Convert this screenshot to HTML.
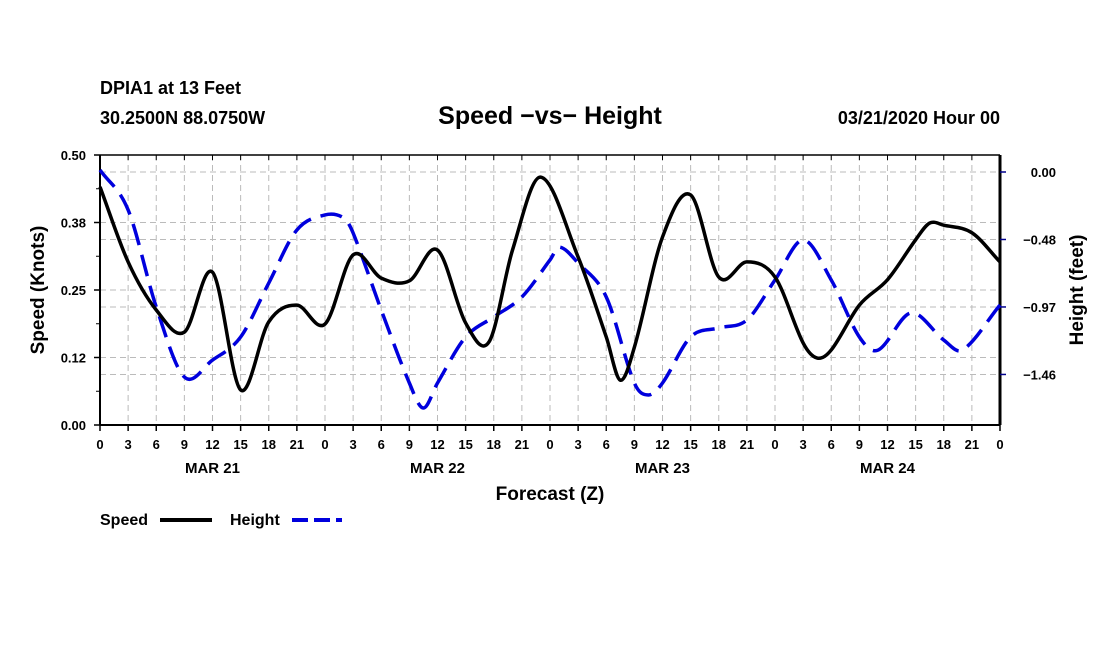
<!DOCTYPE html>
<html><head><meta charset="utf-8"><style>
body{margin:0;background:#fff;}
svg text{font-family:"Liberation Sans",sans-serif;font-weight:bold;fill:#000;}
</style></head><body>
<svg id="chart" width="1100" height="650" xmlns="http://www.w3.org/2000/svg">
<text x="100" y="94" font-size="18">DPIA1 at 13 Feet</text>
<text x="100" y="124" font-size="18">30.2500N 88.0750W</text>
<text x="550" y="124" font-size="25" text-anchor="middle">Speed −vs− Height</text>
<text x="1000" y="124" font-size="18" text-anchor="end">03/21/2020 Hour 00</text>
<g id="grid"></g>
<g id="axes"></g>
<g id="series"></g>
<text transform="translate(44,290) rotate(-90)" font-size="19" text-anchor="middle">Speed (Knots)</text>
<text transform="translate(1083,290) rotate(-90)" font-size="19" text-anchor="middle">Height (feet)</text>
<text x="550" y="500" font-size="19" text-anchor="middle">Forecast (Z)</text>
<g><text x="100" y="525" font-size="16">Speed</text><line x1="160" y1="520" x2="212" y2="520" stroke="#000" stroke-width="4"/></g>
<g><text x="230" y="525" font-size="16">Height</text><line x1="292" y1="520" x2="342" y2="520" stroke="#0000dd" stroke-width="4" stroke-dasharray="16,6"/></g>
</svg>
<script>
const speedHours=[0,3,6,9,12,15,18,21,24,27,30,33,36,39,41.5,44,47,51,54,55.5,57,60,63,66,69,72,75,76.5,78,81,84,87,88.5,90,93,96];
const speed=[0.441,0.302,0.213,0.172,0.283,0.065,0.191,0.222,0.187,0.315,0.272,0.267,0.324,0.189,0.154,0.324,0.459,0.311,0.163,0.083,0.144,0.348,0.426,0.274,0.302,0.274,0.152,0.124,0.139,0.222,0.269,0.343,0.374,0.370,0.356,0.302];
const heightHours=[0,3,6,9,12,15,18,21,24,26,27,30,33,34.5,36,39,42,45,48,49,51,54,57,58.5,60,63,66,69,72,75,78,81,83,86.5,90,92,96];
const height=[0.014,-0.273,-0.971,-1.475,-1.353,-1.187,-0.799,-0.417,-0.309,-0.331,-0.439,-0.993,-1.518,-1.698,-1.518,-1.187,-1.043,-0.899,-0.633,-0.540,-0.655,-0.899,-1.518,-1.604,-1.518,-1.187,-1.122,-1.065,-0.777,-0.489,-0.777,-1.187,-1.281,-1.014,-1.209,-1.281,-0.957];
const speedTicks=[0,0.125,0.25,0.375,0.5];
const speedTickLabels=["0.00","0.12","0.25","0.38","0.50"];
const heightTicks=[0,-0.4855,-0.971,-1.4565];
const heightTickLabels=["0.00","−0.48","−0.97","−1.46"];
const xTickLabels=["0","3","6","9","12","15","18","21"];
const dayLabels=["MAR 21","MAR 22","MAR 23","MAR 24"];

const L=100,R=1000,T=155,B=425;
const X=h=>L+h*(R-L)/96;
const YS=v=>B-v*(B-T)/0.5;
const YH=v=>172-v*139;
const NS="http://www.w3.org/2000/svg";
function mk(tag,attrs,parent){const e=document.createElementNS(NS,tag);for(const k in attrs)e.setAttribute(k,attrs[k]);parent.appendChild(e);return e;}
const grid=document.getElementById('grid'),axes=document.getElementById('axes'),series=document.getElementById('series');
for(let h=3;h<96;h+=3){const l=mk('line',{x1:X(h),x2:X(h),y1:T,y2:B,stroke:'#bbb','stroke-dasharray':'6,4'},grid);

}
speedTicks.slice(1,4).forEach(v=>{const l=mk('line',{x1:L,x2:R,y1:YS(v),y2:YS(v),stroke:'#bbb','stroke-dasharray':'6,4'},grid);

});
heightTicks.forEach(v=>{const l=mk('line',{x1:L,x2:R,y1:YH(v),y2:YH(v),stroke:'#bbb','stroke-dasharray':'6,4'},grid);

});
mk('line',{x1:L,x2:R,y1:B,y2:B,stroke:'#000','stroke-width':2},axes);
mk('line',{x1:L,x2:R,y1:T,y2:T,stroke:'#000','stroke-width':1.5},axes);
mk('line',{x1:L,x2:L,y1:T,y2:B,stroke:'#000','stroke-width':2},axes);
mk('line',{x1:R,x2:R,y1:T,y2:B,stroke:'#000','stroke-width':3},axes);
for(let h=0;h<=96;h+=3){
 mk('line',{x1:X(h),x2:X(h),y1:B,y2:B+6,stroke:'#000','stroke-width':1.5},axes);
 mk('line',{x1:X(h),x2:X(h),y1:T,y2:T+5,stroke:'#000'},axes);
 const t=mk('text',{x:X(h),y:449,'font-size':13,'text-anchor':'middle'},axes);
 
 
 t.textContent=h%24===0?"0":xTickLabels[(h%24)/3];
}
dayLabels.forEach((d,i)=>{const t=mk('text',{x:X(12+24*i),y:473,'font-size':15,'text-anchor':'middle'},axes);


t.textContent=d;});
speedTicks.forEach((v,i)=>{mk('line',{x1:L-6,x2:L,y1:YS(v),y2:YS(v),stroke:'#000','stroke-width':1.5},axes);
 const t=mk('text',{x:86,y:YS(v)+5,'font-size':13,'text-anchor':'end'},axes);
 
 
 t.textContent=speedTickLabels[i];});
for(let v=0.0625;v<0.5;v+=0.125)mk('line',{x1:L-4,x2:L,y1:YS(v),y2:YS(v),stroke:'#000'},axes);
heightTicks.forEach((v,i)=>{mk('line',{x1:R,x2:R+6,y1:YH(v),y2:YH(v),stroke:'#00008b','stroke-width':1.5},axes);
 const t=mk('text',{x:1056,y:YH(v)+5,'font-size':13,'text-anchor':'end'},axes);
 
 
 t.textContent=heightTickLabels[i];});
function pathOf(hs,ys,Y){const p=hs.map((h,i)=>[X(h),Y(ys[i])]);let d=`M${p[0][0]},${p[0][1]}`;
 for(let i=0;i<p.length-1;i++){const p0=p[Math.max(0,i-1)],p1=p[i],p2=p[i+1],p3=p[Math.min(p.length-1,i+2)];
 const dx=p2[0]-p1[0];
 const m1=(p2[1]-p0[1])/(p2[0]-p0[0]||1), m2=(p3[1]-p1[1])/(p3[0]-p1[0]||1);
 d+=` C${p1[0]+dx/3},${p1[1]+m1*dx/3} ${p2[0]-dx/3},${p2[1]-m2*dx/3} ${p2[0]},${p2[1]}`;}
 return d;}
const hl=mk('path',{d:pathOf(heightHours,height,YH),fill:'none',stroke:'#0000dd','stroke-width':3.5,'stroke-dasharray':'22,10'},series);


const sl=mk('path',{d:pathOf(speedHours,speed,YS),fill:'none',stroke:'#000','stroke-width':3.5},series);


</script>
</body></html>
